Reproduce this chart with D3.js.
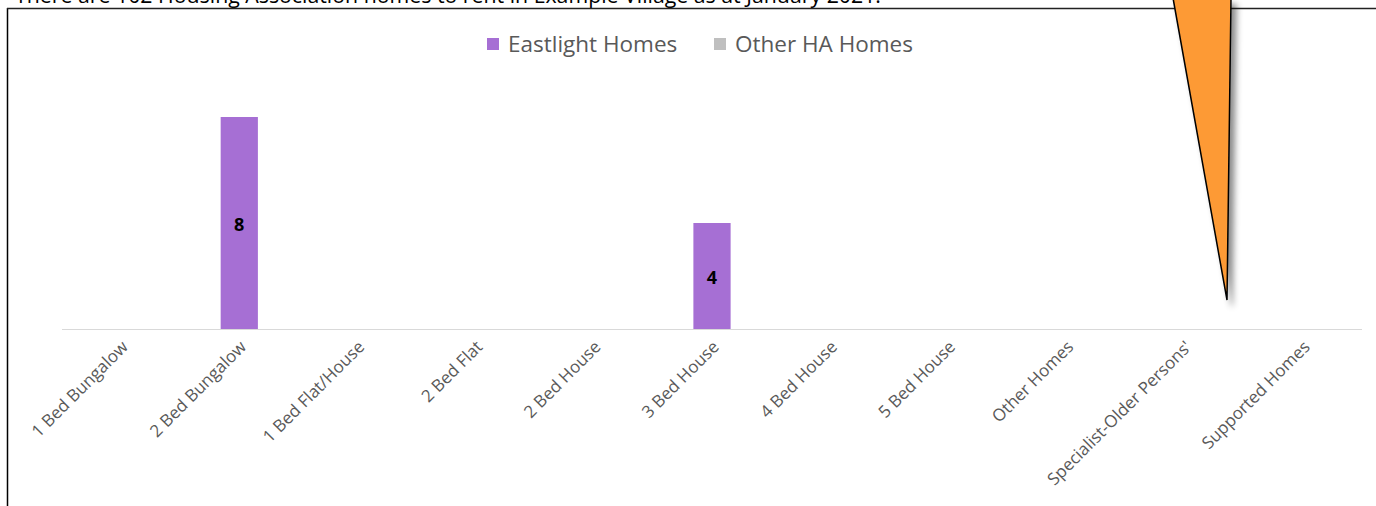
<!DOCTYPE html>
<meta charset="utf-8">
<head><title>Housing Association homes</title>
<style>
body { margin: 0; background: #fff; }
svg { display: block; font-family: "Open Sans", Lato, sans-serif; }
.axis-label { fill: #595959; font-size: 17px; }
.legend text { fill: #595959; font-size: 22.5px; }
</style>
</head>
<body>
<svg width="1376" height="506"></svg>
<script src="https://d3js.org/d3.v7.min.js"></script>
<script>

// chart data
var categories = ["1 Bed Bungalow", "2 Bed Bungalow", "1 Bed Flat/House", "2 Bed Flat",
  "2 Bed House", "3 Bed House", "4 Bed House", "5 Bed House", "Other Homes",
  "Specialist-Older Persons'", "Supported Homes"];
var eastlight = [0, 8, 0, 0, 0, 4, 0, 0, 0, 0, 0];
var otherHA   = [0, 0, 0, 0, 0, 0, 0, 0, 0, 0, 0];
var seriesNames = ["Eastlight Homes", "Other HA Homes"];
var seriesColours = ["#a66fd4", "#bfbfbf"];
var caption = "There are 102 Housing Association homes to rent in Example Village as at January 2021.";

var svg = d3.select("svg");

// stack the two series
var rows = categories.map(function(c, i) {
  return { cat: c, "Eastlight Homes": eastlight[i], "Other HA Homes": otherHA[i] };
});
var stacked = d3.stack().keys(seriesNames)(rows);

var x = d3.scaleBand().domain(categories).range([62, 1362]).paddingInner(0.685).paddingOuter(0.3425);
var y = d3.scaleLinear().domain([0, 10]).range([329, 64]);

// caption text, partly cut at the top
svg.append("text")
    .attr("x", 15).attr("y", 3)
    .style("font-size", "21.3px")
    .attr("fill", "#000")
    .text(caption);

// frame of the chart box
svg.append("line").attr("x1", 7.5).attr("x2", 7.5).attr("y1", 8).attr("y2", 506)
    .attr("stroke", "#000").attr("stroke-width", 1.5);
svg.append("line").attr("x1", 7).attr("x2", 1376).attr("y1", 8.5).attr("y2", 8.5)
    .attr("stroke", "#222").attr("stroke-width", 1.5);

// baseline
svg.append("line")
    .attr("x1", x.range()[0]).attr("x2", x.range()[1])
    .attr("y1", y(0) + 0.5).attr("y2", y(0) + 0.5)
    .attr("stroke", "#d9d9d9").attr("stroke-width", 1);

// bars
var layer = svg.selectAll("g.series")
  .data(stacked)
  .enter().append("g")
    .attr("class", "series")
    .attr("fill", function(d, i) { return seriesColours[i]; });

layer.selectAll("rect")
  .data(function(d) { return d; })
  .enter().append("rect")
    .attr("x", function(d) { return x(d.data.cat); })
    .attr("width", x.bandwidth())
    .attr("y", function(d) { return y(d[1]); })
    .attr("height", function(d) { return y(d[0]) - y(d[1]); });

// value labels
svg.append("g").selectAll("text")
  .data(stacked[0].filter(function(d) { return d[1] - d[0] > 0; }))
  .enter().append("text")
    .attr("x", function(d) { return x(d.data.cat) + x.bandwidth() / 2; })
    .attr("y", function(d) { return (y(d[0]) + y(d[1])) / 2 + 2; })
    .attr("dy", "0.35em")
    .attr("text-anchor", "middle")
    .style("font-size", "18px")
    .style("font-weight", "bold")
    .attr("fill", "#000")
    .text(function(d) { return d[1] - d[0]; });

// category labels, rotated
svg.append("g").selectAll("text")
  .data(categories)
  .enter().append("text")
    .attr("class", "axis-label")
    .attr("text-anchor", "end")
    .attr("transform", function(d) {
      return "translate(" + (x(d) + x.bandwidth() / 2 + 8) + ",348) rotate(-45)";
    })
    .text(function(d) { return d; });

// legend
var legend = svg.append("g").attr("class", "legend");
var legendX = [487, 714];
seriesNames.forEach(function(name, i) {
  legend.append("rect")
      .attr("x", legendX[i]).attr("y", 38)
      .attr("width", 12).attr("height", 12)
      .attr("fill", seriesColours[i]);
  legend.append("text")
      .attr("x", legendX[i] + 21).attr("y", 51.5)
      .text(name);
});

// orange callout pointer with a soft shadow
var defs = svg.append("defs");
var f = defs.append("filter").attr("id", "shadow")
    .attr("x", "-50%").attr("y", "-10%").attr("width", "200%").attr("height", "130%");
f.append("feDropShadow")
    .attr("dx", 5).attr("dy", 6).attr("stdDeviation", 3)
    .attr("flood-color", "#000").attr("flood-opacity", 0.45);

svg.append("path")
    .attr("d", d3.line()([[1173, -2], [1227, 300], [1231, -2]]))
    .attr("fill", "#fd9a34")
    .attr("stroke", "#000")
    .attr("stroke-width", 1.5)
    .attr("stroke-linejoin", "miter")
    .attr("filter", "url(#shadow)");

</script>
</body>
